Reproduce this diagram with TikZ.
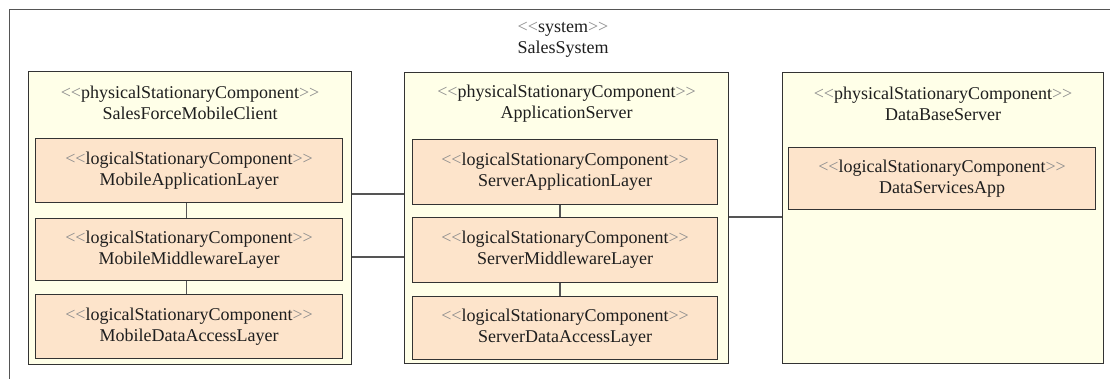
\documentclass[tikz,border=0pt]{standalone}
\usepackage{fontspec}
\setmainfont{Liberation Serif}
\usetikzlibrary{calc}
\definecolor{physfill}{HTML}{FFFFE8}
\definecolor{logfill}{HTML}{FDE4CB}
\definecolor{edge}{HTML}{333333}
\definecolor{framecol}{HTML}{555555}
\definecolor{ink}{HTML}{1E1E1E}
\definecolor{guil}{HTML}{8C8C8C}
% stereotype label with light guillemet-style brackets
\newcommand\stereotype[1]{\textcolor{guil}{<{}<}#1\textcolor{guil}{>{}>}}

\begin{document}
\begin{tikzpicture}[x=1pt,y=-1pt,
  font=\fontsize{18pt}{21pt}\selectfont, text=ink,
  sysframe/.style={draw=framecol, line width=1.3pt, anchor=north west, inner sep=0},
  phys/.style={draw=edge, fill=physfill, line width=1.2pt, anchor=north west, inner sep=0},
  logical/.style={draw=edge, fill=logfill, line width=1.2pt, anchor=north west,
    inner sep=0, align=center},
  title/.style={align=center, inner sep=0},
  link/.style={draw=framecol, line width=1.3pt}]

\fill[white] (0,0) rectangle (1110,379);
\clip (0,0) rectangle (1110,379);

% enclosing system
\node[sysframe, minimum width=1130pt, minimum height=400pt] (sys) at (9,9) {};
\node[title] (syst) at (563,40) {\stereotype{system}\\SalesSystem};

% physical components
\node[phys, minimum width=323pt, minimum height=293pt] (p1) at (28,71) {};
\node[phys, minimum width=324pt, minimum height=291pt] (p2) at (404,72) {};
\node[phys, minimum width=321pt, minimum height=291pt] (p3) at (782,72) {};

\node[title] (p1t) at ($(p1.north)+(0,32)$) {\stereotype{physicalStationaryComponent}\\SalesForceMobileClient};
\node[title] (p2t) at ($(p2.north)+(0,32)$) {\stereotype{physicalStationaryComponent}\\ApplicationServer};
\node[title] (p3t) at ($(p3.north)+(0,32)$) {\stereotype{physicalStationaryComponent}\\DataBaseServer};

% logical components: mobile client
\node[logical, minimum width=307pt, minimum height=64pt] (m1) at (35,138) {\stereotype{logicalStationaryComponent}\\MobileApplicationLayer};
\node[logical, minimum width=307pt, minimum height=62pt] (m2) at (35,218) {\stereotype{logicalStationaryComponent}\\MobileMiddlewareLayer};
\node[logical, minimum width=307pt, minimum height=64pt] (m3) at (35,294) {\stereotype{logicalStationaryComponent}\\MobileDataAccessLayer};

% logical components: application server
\node[logical, minimum width=305pt, minimum height=65pt] (s1) at (412,139) {\stereotype{logicalStationaryComponent}\\ServerApplicationLayer};
\node[logical, minimum width=305pt, minimum height=65pt] (s2) at (412,217) {\stereotype{logicalStationaryComponent}\\ServerMiddlewareLayer};
\node[logical, minimum width=305pt, minimum height=63pt] (s3) at (412,296) {\stereotype{logicalStationaryComponent}\\ServerDataAccessLayer};

% logical component: database server
\node[logical, minimum width=307pt, minimum height=62pt] (d1) at (788,147) {\stereotype{logicalStationaryComponent}\\DataServicesApp};

% layer dependencies
\draw[link] ([xshift=-2.5pt]m1.south) -- ([xshift=-2.5pt]m2.north);
\draw[link] ([xshift=-2.5pt]m2.south) -- ([xshift=-2.5pt]m3.north);
\draw[link] ([xshift=-5pt]s1.south) -- ([xshift=-5pt]s2.north);
\draw[link] ([xshift=-5pt]s2.south) -- ([xshift=-5pt]s3.north);

% communication paths between nodes
\coordinate (yA) at (0,194);
\coordinate (yB) at (0,257);
\coordinate (yC) at (0,217);
\draw[link] (p1.east |- yA) -- (p2.west |- yA);
\draw[link] (p1.east |- yB) -- (p2.west |- yB);
\draw[link] (p2.east |- yC) -- (p3.west |- yC);
\end{tikzpicture}
\end{document}
